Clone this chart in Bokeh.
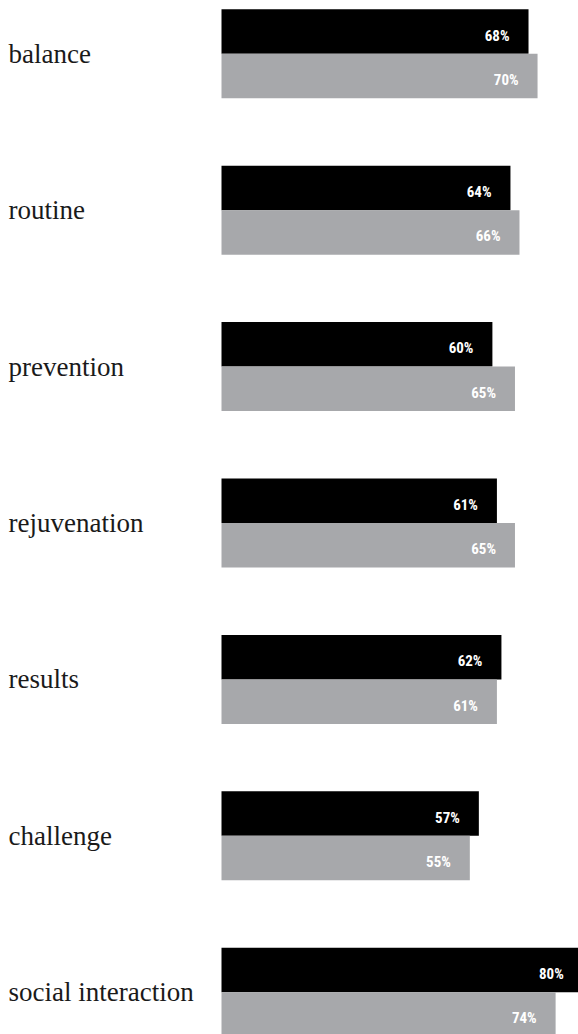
from bokeh.plotting import figure
from bokeh.models import ColumnDataSource, Range1d
from bokeh.core.properties import value
from bokeh.embed import file_html
from bokeh.resources import INLINE

categories = ["balance", "routine", "prevention", "rejuvenation", "results",
              "challenge", "social interaction"]
series_black = [68, 64, 60, 61, 62, 57, 80]
series_gray = [70, 66, 65, 65, 61, 55, 74]

W, H = 578, 1034
PX_PER_PCT = 4.515
BAR_START_PX = 221
GROUP_PX = 156.4
FIRST_CENTER_PX = 53.3
BAR_H = 0.2845

x_min = -BAR_START_PX / PX_PER_PCT
x_max = (W - BAR_START_PX) / PX_PER_PCT
y_top = -FIRST_CENTER_PX / GROUP_PX
y_bottom = (H - FIRST_CENTER_PX) / GROUP_PX

idx = list(range(len(categories)))
src = ColumnDataSource(dict(
    cat=categories,
    y=idx,
    yb=[i - BAR_H / 2 for i in idx],
    yg=[i + BAR_H / 2 for i in idx],
    black=series_black,
    gray=series_gray,
    black_lbl=[f"{v}%" for v in series_black],
    gray_lbl=[f"{v}%" for v in series_gray],
    xlab=[x_min] * len(categories),
))

p = figure(width=W, height=H, output_backend="svg", toolbar_location=None,
           x_range=Range1d(x_min, x_max), y_range=Range1d(y_bottom, y_top),
           x_axis_type=None, y_axis_type=None, min_border=0,
           outline_line_color=None, background_fill_color="white",
           border_fill_color="white")
p.grid.visible = False

p.hbar(y="yb", left=0, right="black", height=BAR_H, source=src,
       fill_color="#000000", line_color=None)
p.hbar(y="yg", left=0, right="gray", height=BAR_H, source=src,
       fill_color="#a7a8ab", line_color=None)

pct_font = value("'Roboto Condensed', Roboto, sans-serif")
p.text(x="black", y="yb", text="black_lbl", source=src, text_align="right",
       text_baseline="alphabetic", x_offset=-19, y_offset=4,
       text_font=pct_font, text_font_style="bold", text_font_size="15px",
       text_color="#ffffff")
p.text(x="gray", y="yg", text="gray_lbl", source=src, text_align="right",
       text_baseline="alphabetic", x_offset=-19, y_offset=4,
       text_font=pct_font, text_font_style="bold", text_font_size="15px",
       text_color="#ffffff")

p.text(x="xlab", y="y", text="cat", source=src, text_align="left",
       text_baseline="alphabetic", x_offset=8, y_offset=0,
       text_font=value("Liberation Serif"), text_font_size="27px",
       text_color="#1a1a1a")

open("out.html", "w").write(file_html(p, INLINE))
